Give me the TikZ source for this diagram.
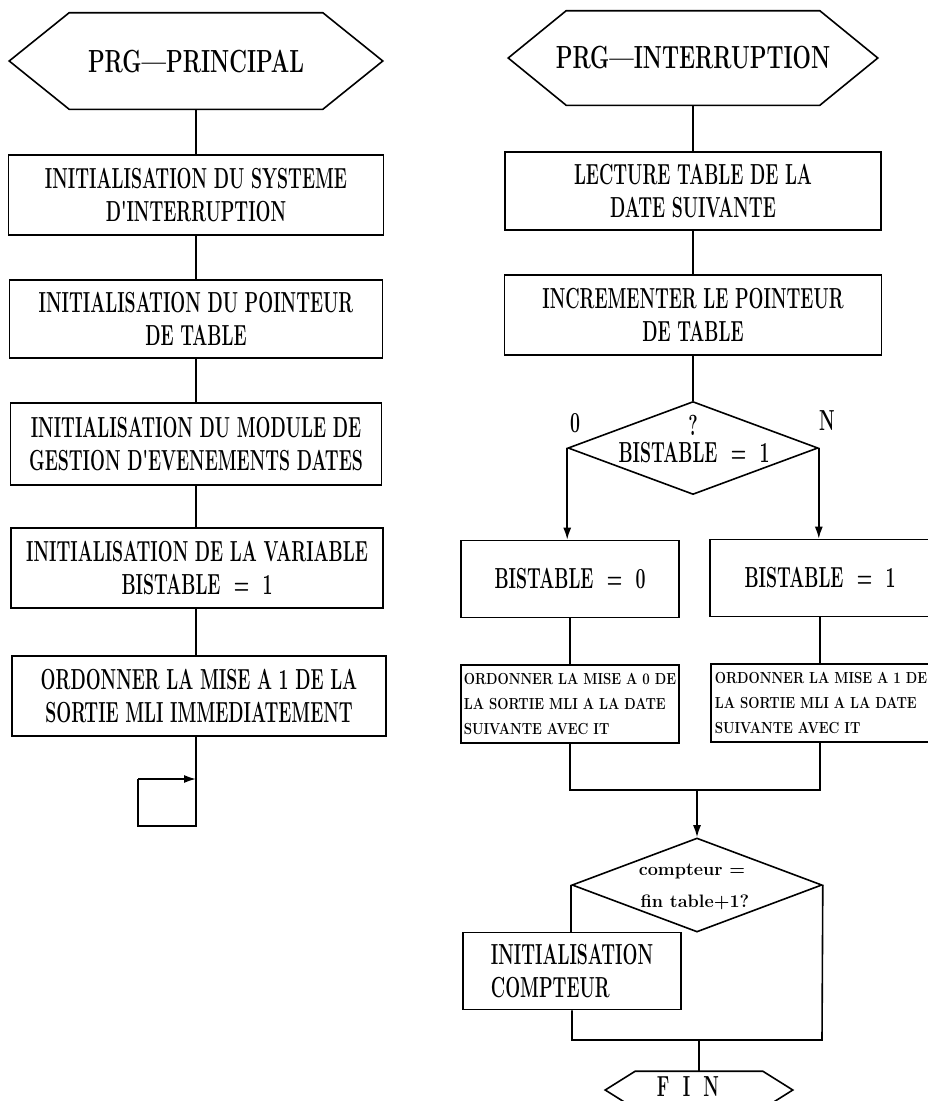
\documentclass[tikz,border=0pt]{standalone}
\usepackage{graphicx}
\usetikzlibrary{shapes.geometric,arrows.meta,calc}
\newcommand\cz[1]{\scalebox{\czf}[1]{#1}}
\def\czf{1}
\begin{document}
\begin{tikzpicture}[x=1pt,y=-1pt,line width=1.6pt,
  box/.style={draw,rectangle,inner sep=0pt,align=center,
    font={\def\czf{0.61}\fontsize{29}{33}\bfseries}},
  lbox/.style={draw,rectangle,inner sep=0pt,align=left,
    font={\def\czf{0.61}\fontsize{29}{33}\bfseries}},
  ttl/.style={inner sep=0pt,font={\def\czf{0.68}\fontsize{32}{38}\bfseries}},
  sbox/.style={draw,rectangle,inner xsep=1pt,inner ysep=0pt,align=left,
    font={\def\czf{0.83}\fontsize{16}{25}\bfseries}},
  lbl/.style={inner sep=0pt,anchor=base,
    font={\def\czf{0.61}\fontsize{29}{33}\bfseries}},
  dtxt/.style={inner sep=0pt,anchor=base,
    font={\def\czf{1}\fontsize{18}{22}\bfseries}},
  dia/.style={draw,diamond,inner sep=0pt},
  arr/.style={-{Latex[length=12pt,width=8pt]}}]
\useasboundingbox (0,0) rectangle (928,1101);

% ---------- left column ----------
\node[ttl,minimum width=372,minimum height=95] (hexL) at (196,61) {\cz{PRG---PRINCIPAL}};
\draw (hexL.west) -- ($(hexL.north west)+(60,0)$) -- ($(hexL.north east)+(-60,0)$)
  -- (hexL.east) -- ($(hexL.south east)+(-60,0)$) -- ($(hexL.south west)+(60,0)$) -- cycle;
\node[box,minimum width=375,minimum height=80] (b1) at (196,195)
  {\cz{INITIALISATION DU SYSTEME}\\\cz{D\textquotesingle INTERRUPTION}};
\node[box,minimum width=373,minimum height=78] (b2) at (196,319)
  {\cz{INITIALISATION DU POINTEUR}\\\cz{DE TABLE}};
\node[box,minimum width=371,minimum height=82] (b3) at (196,444)
  {\cz{INITIALISATION DU MODULE DE}\\\cz{GESTION D\textquotesingle EVENEMENTS DATES}};
\node[box,minimum width=372,minimum height=80] (b4) at (197,568)
  {\cz{INITIALISATION DE LA VARIABLE}\\\cz{BISTABLE\ \ =\ \ 1}};
\node[box,minimum width=374,minimum height=80] (b5) at (199,696)
  {\cz{ORDONNER LA MISE A 1 DE LA}\\\cz{SORTIE MLI IMMEDIATEMENT}};
\draw (hexL.south) -- (b1.north);
\draw (b1.south) -- (b2.north);
\draw (b2.south) -- (b3.north);
\draw (b3.south) -- (b3.south |- b4.north);
\draw (b4.south -| b3.south) -- (b3.south |- b5.north);
\coordinate (lp1) at (196,826);
\coordinate (lp2) at (138,826);
\coordinate (lp3) at (138,779);
\coordinate (lp4) at (196,779);
\draw (b5.south -| lp1) -- (lp1) -- (lp2) -- (lp3);
\draw[arr] (lp3) -- (lp4);

% ---------- right column ----------
\node[ttl,minimum width=368,minimum height=93] (hexR) at (693,58) {\cz{PRG---INTERRUPTION}};
\draw (hexR.west) -- ($(hexR.north west)+(58,0)$) -- ($(hexR.north east)+(-58,0)$)
  -- (hexR.east) -- ($(hexR.south east)+(-58,0)$) -- ($(hexR.south west)+(58,0)$) -- cycle;
\node[box,minimum width=376,minimum height=78] (lec) at (693,191)
  {\cz{LECTURE TABLE DE LA}\\\cz{DATE SUIVANTE}};
\node[box,minimum width=377,minimum height=80] (inc) at (693,315)
  {\cz{INCREMENTER LE POINTEUR}\\\cz{DE TABLE}};
\node[dia,minimum width=250,minimum height=93] (d1) at (693,448) {};
\node[lbl] (q) at (693,435) {\cz{?}};
\node[lbl] (d1t) at (694,462) {\cz{BISTABLE\ \ =\ \ 1}};
\node[lbl] (zero) at (575,432) {\cz{0}};
\node[lbl] (enn) at (827,430) {\cz{N}};
\draw (hexR.south) -- (lec.north);
\draw (lec.south) -- (inc.north);
\draw (inc.south) -- (d1.north);

\node[box,minimum width=218,minimum height=77] (b0) at (570,579) {\cz{BISTABLE\ \ =\ \ 0}};
\node[box,minimum width=220,minimum height=77] (b1r) at (820,578) {\cz{BISTABLE\ \ =\ \ 1}};
\draw[arr] (d1.west) -- (d1.west |- b0.north);
\draw[arr] (d1.east) -- (d1.east |- b1r.north);

\node[sbox,minimum width=218,minimum height=78] (o0) at (570,704)
  {\cz{ORDONNER LA MISE A 0 DE}\\\cz{LA SORTIE MLI A LA DATE}\\\cz{SUIVANTE AVEC IT}};
\node[sbox,minimum width=220,minimum height=78] (o1) at (821,703)
  {\cz{ORDONNER LA MISE A 1 DE}\\\cz{LA SORTIE MLI A LA DATE}\\\cz{SUIVANTE AVEC IT}};
\draw (b0.south) -- (b0.south |- o0.north);
\draw (b1r.south) -- (b1r.south |- o1.north);

\coordinate (mL) at (570,790);
\coordinate (mR) at (820,790);
\coordinate (mC) at (697,790);
\draw (o0.south) -- (mL) -- (mR) -- (o1.south -| mR);
\node[dia,minimum width=250,minimum height=94] (d2) at (697,885) {};
\draw[arr] (mC) -- (d2.north);
\node[dtxt] (d2a) at (692,875) {compteur =};
\node[dtxt] (d2b) at (695,907) {fin table+1?};

\node[lbox,minimum width=218,minimum height=77] (ic) at (572,971)
  {\cz{INITIALISATION}\\\cz{COMPTEUR}};
\draw (d2.west) -- (d2.west |- ic.north);
\coordinate (cL) at (572,1040);
\coordinate (cR) at (822,1040);
\coordinate (cM) at (699,1040);
\draw (ic.south) -- (cL) -- (cR) -- (d2.east);

\node[inner sep=0pt,minimum width=186,minimum height=36] (fin) at (699,1090) {};
\draw (fin.west) -- ($(fin.north west)+(30,0)$) -- ($(fin.north east)+(-30,0)$)
  -- (fin.east) -- ($(fin.south east)+(-30,0)$) -- ($(fin.south west)+(30,0)$) -- cycle;
\node[lbl] (fint) at (688,1096) {\cz{F\ \ I\ \ N}};
\draw (cM) -- (fin.north);
\end{tikzpicture}
\end{document}
